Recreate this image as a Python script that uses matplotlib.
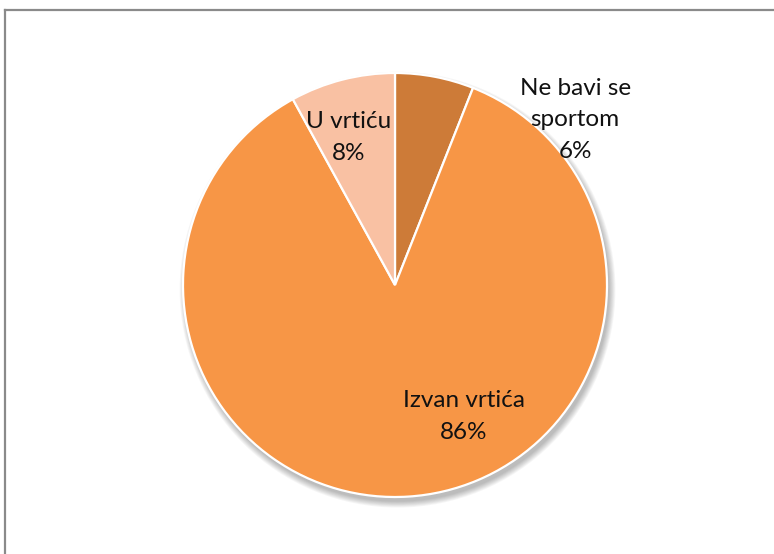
import numpy as np
import matplotlib
matplotlib.use("Agg")
from matplotlib import pyplot as plt
from matplotlib.patches import Circle
from matplotlib.lines import Line2D

# share of children by where they do sport
labels = ["Ne bavi se\nsportom", "Izvan vrtića", "U vrtiću"]
shares = [6, 86, 8]
colors = ["#CD7B38", "#F79646", "#F9C1A3"]

# label anchors in pie units (radius = 1)
label_pos = [(0.85, 0.78), (0.325, -0.62), (-0.22, 0.695)]

W, H = 774, 554
fig = plt.figure(figsize=(W / 100, H / 100), dpi=100)
fig.patch.set_facecolor("white")

# pie centre and radius in pixels
cx, cy, r = 395, 285, 212
ax = fig.add_axes([(cx - r) / W, (H - cy - r) / H, 2 * r / W, 2 * r / H])

# soft shadow under the pie
for k in range(8):
    ax.add_patch(Circle((0.012, -0.022), 1.0 + 0.004 * k, color="#000000",
                        alpha=0.035, lw=0, zorder=0, clip_on=False))

wedges, _ = ax.pie(shares, colors=colors, startangle=90, counterclock=False,
                   radius=1.0, frame=True,
                   wedgeprops=dict(edgecolor="white", linewidth=1.6))
for w in wedges:
    w.set_zorder(2)
ax.set_xlim(-1, 1)
ax.set_ylim(-1, 1)
ax.axis("off")

for lab, val, (x, y) in zip(labels, shares, label_pos):
    ax.text(x, y, f"{lab}\n{val}%", ha="center", va="center",
            fontsize=17.5, family="Lato", color="#111111",
            linespacing=1.62, zorder=5)

# outer border of the chart area
fig.add_artist(Line2D([5 / W, 1.01], [1 - 10 / H, 1 - 10 / H],
                      transform=fig.transFigure, color="#8A8A8A", lw=1.6))
fig.add_artist(Line2D([5 / W, 5 / W], [1 - 10 / H, -0.01],
                      transform=fig.transFigure, color="#8A8A8A", lw=1.6))

fig.savefig("out.png", dpi=100)
